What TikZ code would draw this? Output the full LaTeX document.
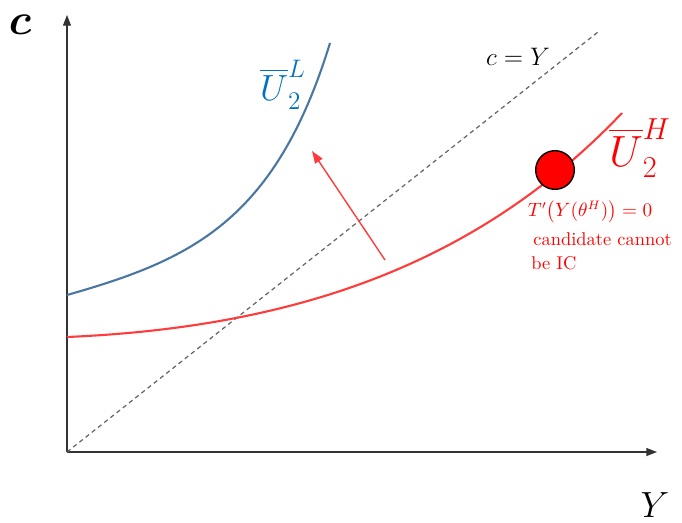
\documentclass[tikz,border=0pt]{standalone}
\usepackage{amsmath,amssymb}
\usepackage{tikz}
\usetikzlibrary{arrows.meta,positioning,calc}
\usepackage{xcolor}
\definecolor{lowblue}{RGB}{74,118,162}
\definecolor{lablue}{RGB}{0,112,192}
\definecolor{hired}{RGB}{255,60,60}

\begin{document}
\begin{tikzpicture}[x=0.02cm,y=0.02cm,
  axis/.style={draw=black!80,line width=0.6pt,-{Triangle[length=6pt,width=4.5pt]}},
  diag/.style={draw=black!60,dashed,line width=0.7pt,dash pattern=on 2.5pt off 2pt},
  lab/.style={inner sep=0pt}]
\useasboundingbox (0,0) rectangle (682,522);
% axes
\coordinate (O) at (67,70);
\coordinate (ytip) at (67,507);
\coordinate (xtip) at (657,70);
\draw[axis] (O)--(ytip);
\draw[axis] (O)--(xtip);
\node[lab,font=\fontsize{27}{30}\selectfont] (clab) at (20,497){$\boldsymbol{c}$};
\node[lab,font=\fontsize{22}{26}\selectfont] (Ylab) at (655,17){$Y$};
% 45 degree line
\coordinate (dend) at (598,490);
\draw[diag] (O)--(dend);
\node[lab,font=\Large] (cY) at (518,465){$c=Y$};
% indifference curves
\draw[lowblue,line width=1.2pt] (67,227) .. controls (190,262) and (275,300) .. (330,479);
\draw[hired,line width=1.2pt] (67,185) .. controls (300,195) and (480,260) .. (622,409);
\node[lab,text=lablue,font=\fontsize{21}{24}\selectfont] (UL) at (283,437){$\overline{U}_2^L$};
\node[lab,text=red,font=\fontsize{24}{28}\selectfont] (UH) at (640,374){$\overline{U}_2^H$};
% candidate point
\node[circle,draw=black,line width=0.8pt,fill=red,minimum size=22pt,inner sep=0pt] (cand) at (555,352){};
\node[lab,text=red,font=\fontsize{10.5}{12}\selectfont] (Tp) at (590,310){$T'\big(Y(\theta^H)\big)=0$};
\node[lab,text=red,anchor=west,font=\fontsize{10.5}{12}\selectfont] (cc) at (533,283){candidate cannot};
\node[lab,text=red,anchor=west,font=\fontsize{10.5}{12}\selectfont] (ic) at (531,259){be IC};
% shift arrow
\coordinate (abeg) at (385,262);
\coordinate (aend) at (312,371);
\draw[hired,line width=0.8pt,-{Triangle[length=7pt,width=5pt]}] (abeg)--(aend);
\end{tikzpicture}
\end{document}
